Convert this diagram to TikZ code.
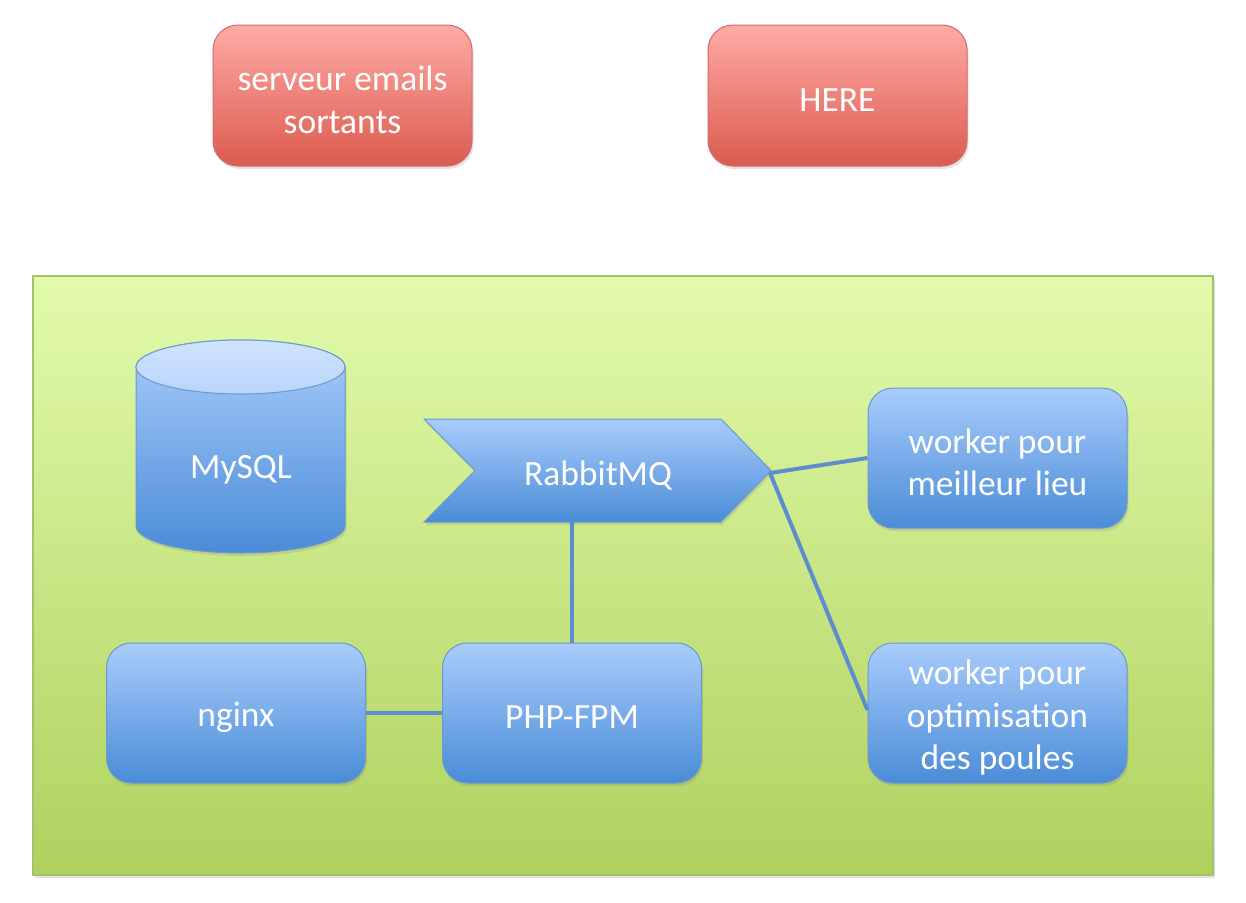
\documentclass[tikz,border=0pt]{standalone}
\usepackage{fontspec}
\setmainfont{Carlito}
\usetikzlibrary{shadows}
\definecolor{redtop}{HTML}{FFAAA6}
\definecolor{redbot}{HTML}{DC5B4F}
\definecolor{redline}{HTML}{CF6B68}
\definecolor{bluetop}{HTML}{A9CCFC}
\definecolor{bluebot}{HTML}{4A8CD7}
\definecolor{blueline}{HTML}{6A98D0}
\definecolor{greentop}{HTML}{E2FBAC}
\definecolor{greenbot}{HTML}{AFD15E}
\definecolor{greenline}{HTML}{A3C26A}
\definecolor{cyltop}{HTML}{D0E3FD}
\definecolor{cyltopb}{HTML}{B9D5FB}
\definecolor{linkcol}{HTML}{5C8DCF}
\begin{document}
\begin{tikzpicture}[x=1pt,y=-1pt,
  txt/.style={text=white,font=\fontsize{35.5}{42.5}\selectfont,align=center,inner sep=0pt},
  shad/.style={drop shadow={opacity=0.22,shadow xshift=1.5pt,shadow yshift=-3pt}},
  redbox/.style={shad,rounded corners=25pt,top color=redtop,bottom color=redbot,draw=redline,line width=1pt,minimum width=259pt,minimum height=141pt,inner sep=0pt},
  bluebox/.style={shad,rounded corners=25pt,top color=bluetop,bottom color=bluebot,draw=blueline,line width=1pt,minimum width=259pt,minimum height=140pt,inner sep=0pt},
  greenbox/.style={shad,top color=greentop,bottom color=greenbot,draw=greenline,line width=1.2pt,minimum width=1180pt,minimum height=599pt,inner sep=0pt},
  link/.style={draw=linkcol,line width=4pt}]
\useasboundingbox (0,0) rectangle (1246,902);
% outer servers
\node[redbox] (mail) at (342.5,95.5) {};
\node[txt] (mailt) at ([yshift=-4.5pt]mail.center) {serveur emails\\sortants};
\node[redbox] (here) at (837.5,95.5) {};
\node[txt] (heret) at ([yshift=-4.5pt]here.center) {HERE};
% green zone
\node[greenbox] (zone) at (623,575.5) {};
% MySQL cylinder
\shade[top color=bluetop,bottom color=bluebot,draw=blueline,line width=1pt,
  drop shadow={opacity=0.22,shadow xshift=1.5pt,shadow yshift=-3pt}]
  (136,367) -- (136,526) arc[start angle=180,end angle=360,x radius=104.5pt,y radius=27pt]
  -- (345,367) arc[start angle=0,end angle=180,x radius=104.5pt,y radius=27pt] -- cycle;
\shade[top color=cyltop,bottom color=cyltopb,draw=blueline,line width=1pt]
  (240.5,367) ellipse[x radius=104.5pt,y radius=27pt];
\node[txt] (mysql) at (241,470) {MySQL};
% RabbitMQ chevron
\shade[top color=bluetop,bottom color=bluebot,draw=blueline,line width=1pt,
  drop shadow={opacity=0.22,shadow xshift=1.5pt,shadow yshift=-3pt}]
  (424,419) -- (721,419) -- (771,470.5) -- (721,522) -- (424,522) -- (475,470.5) -- cycle;
\node[txt] (rabbit) at (598,476) {RabbitMQ};
\coordinate (tip) at (770,473);
\coordinate (rbot) at (572,522);
% boxes
\node[bluebox] (w1) at (997.5,458) {};
\node[txt] (w1t) at ([yshift=-4.5pt]w1.center) {worker pour\\meilleur lieu};
\node[bluebox] (w2) at (997.5,713) {};
\node[txt] (w2t) at ([yshift=-5pt]w2.center) {worker pour\\optimisation\\des poules};
\node[bluebox] (nginx) at (236,713) {};
\node[txt] (nginxt) at ([yshift=-4.5pt]nginx.center) {nginx};
\node[bluebox] (php) at (572,713) {};
\node[txt] (phpt) at ([yshift=-4.5pt]php.center) {PHP-FPM};
% connectors
\draw[link] (rbot) -- (php.north);
\draw[link] (nginx.east) -- (php.west);
\draw[link] (tip) -- (w1.west);
\draw[link] (tip) -- ([yshift=3pt]w2.west);
\end{tikzpicture}
\end{document}
